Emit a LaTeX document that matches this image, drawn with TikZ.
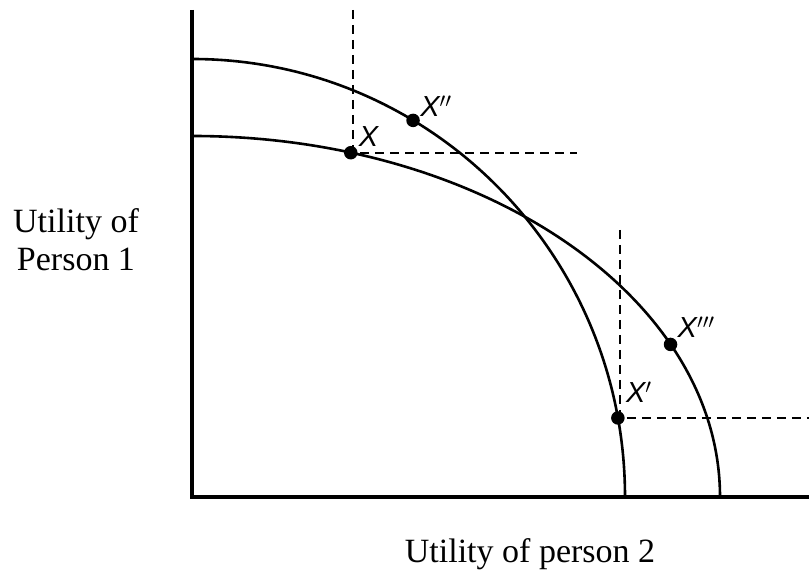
\documentclass[tikz,border=0pt]{standalone}
\usepackage{fontspec}
\setmainfont{Liberation Serif}
\newfontfamily\lblfont{Liberation Sans}
\usetikzlibrary{calc}
\tikzset{
  axisline/.style={line width=3.2pt},
  frontier/.style={line width=2.6pt},
  guide/.style={line width=2.4pt, dash pattern=on 9pt off 6pt},
  dotmark/.style={circle, fill=black, inner sep=0pt, minimum size=13.5pt},
  ptlabel/.style={font=\fontsize{29}{32}\selectfont\lblfont\itshape, inner sep=0pt},
  axislabel/.style={font=\fontsize{34}{38}\selectfont, align=center, inner sep=0pt}
}
\begin{document}
\begin{tikzpicture}[x=1pt,y=1pt]
\useasboundingbox (0,0) rectangle (809,580);
% axes
\coordinate (origin) at (192,83);
\coordinate (ytop) at (192,570);
\coordinate (xend) at (809,83);
\draw[axisline] (ytop) -- (origin) -- (xend);
% frontiers
\draw[frontier] ($(origin)+(0,438)$) arc[start angle=90, end angle=0, x radius=433, y radius=438];
\draw[frontier] ($(origin)+(0,361)$) arc[start angle=90, end angle=0, x radius=528, y radius=361];
% points
\node[dotmark] (X) at ($(origin)+(72.5:528 and 361)$) {};
\node[dotmark] (X2) at ($(origin)+(59.3:433 and 438)$) {};
\node[dotmark] (X3) at ($(origin)+(25.0:528 and 361)$) {};
\node[dotmark] (X1) at ($(origin)+(10.4:433 and 438)$) {};
% dashed guides
\coordinate (Xtop) at ($(X.center)+(2,0)$);
\coordinate (XtopEnd) at (Xtop |- ytop);
\coordinate (Xright) at (577,0 |- X.center);
\draw[guide] (XtopEnd) -- (Xtop |- X.center) -- (X.center -| Xright);
\coordinate (X1top) at ($(X1.center)+(2,0)$);
\coordinate (X1up) at (X1top |- 0,350);
\coordinate (X1right) at (809,0 |- X1.center);
\draw[guide] (X1up) -- (X1top |- X1.center) -- (X1.center -| X1right);
% point labels
\node[ptlabel, anchor=south west] (lX) at ($(X.center)+(8,6)$) {X};
\node[ptlabel, anchor=south west] (lX2) at ($(X2.center)+(7,4)$) {X$''$};
\node[ptlabel, anchor=south west] (lX3) at ($(X3.center)+(7,7)$) {X$'''$};
\node[ptlabel, anchor=south west] (lX1) at ($(X1.center)+(8,15)$) {X$'$};
% axis labels
\node[axislabel] (ylab) at (76,340) {Utility of\\Person 1};
\node[axislabel, anchor=base] (xlab) at (530,17) {Utility of person 2};
\end{tikzpicture}
\end{document}
